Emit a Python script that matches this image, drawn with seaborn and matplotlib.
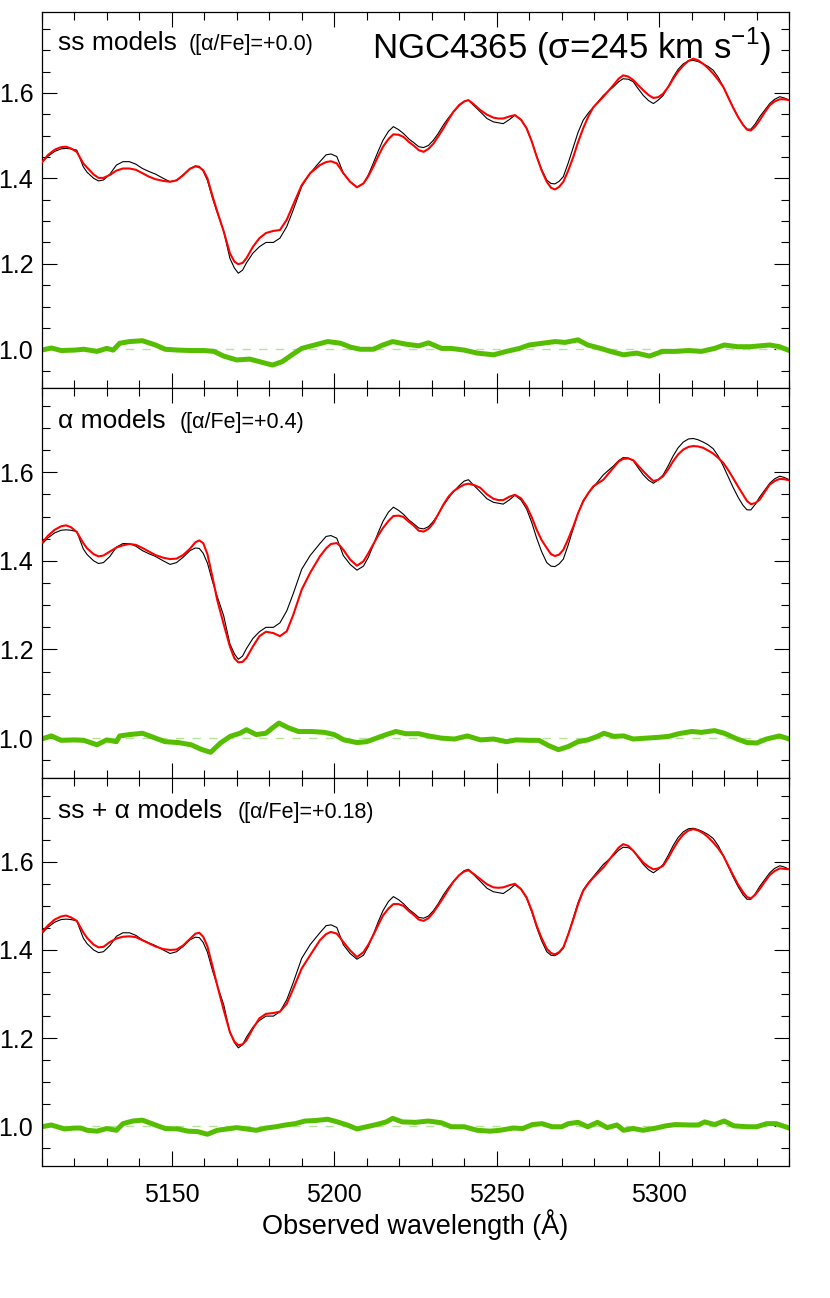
"""
NGC4365 光谱拟合图 - 观测谱 + 模型 + 残差（三种模型）
"""

import numpy as np
import matplotlib
matplotlib.use('Agg')
import matplotlib.pyplot as plt
from matplotlib.ticker import MultipleLocator, FormatStrFormatter
import seaborn as sns

sns.set_theme(style='ticks')
plt.rcParams['font.family'] = ['Liberation Sans', 'DejaVu Sans']
plt.rcParams['mathtext.fontset'] = 'custom'
plt.rcParams['mathtext.rm'] = 'Liberation Sans'
plt.rcParams['text.color'] = 'black'
plt.rcParams['axes.labelcolor'] = 'black'
plt.rcParams['xtick.color'] = 'black'
plt.rcParams['ytick.color'] = 'black'
plt.rcParams['lines.solid_joinstyle'] = 'round'
plt.rcParams['lines.solid_capstyle'] = 'round'

# 观测谱与模型的波长网格 (Å)
wave = [5110.0, 5112.0, 5114.0, 5116.0, 5117.5, 5119.0, 5120.8, 5122.8, 5124.0, 5126.0,
        5127.5, 5129.0, 5131.0, 5133.0, 5135.0, 5137.0, 5139.0, 5141.0, 5143.0, 5145.0,
        5147.4, 5149.5, 5151.5, 5153.5, 5155.6, 5157.3, 5158.5, 5159.7, 5161.0, 5162.5,
        5164.0, 5166.0, 5167.9, 5169.3, 5170.5, 5171.8, 5173.0, 5175.0, 5177.0, 5179.0,
        5181.3, 5183.3, 5185.4, 5187.4, 5190.0, 5192.6, 5195.6, 5197.5, 5199.0, 5200.8,
        5201.8, 5202.8, 5204.9, 5207.0, 5209.0, 5210.5, 5212.0, 5213.5, 5215.0, 5216.7,
        5218.2, 5219.8, 5221.3, 5223.0, 5224.4, 5226.0, 5227.5, 5229.0, 5230.5, 5232.0,
        5233.6, 5235.2, 5236.7, 5238.5, 5240.0, 5241.3, 5243.0, 5244.9, 5247.0, 5249.0,
        5250.5, 5252.0, 5254.0, 5255.6, 5257.5, 5259.2, 5260.8, 5262.3, 5263.8, 5265.4,
        5266.7, 5267.9, 5269.2, 5270.5, 5272.0, 5273.6, 5275.0, 5276.6, 5278.2, 5279.7,
        5282.8, 5285.9, 5287.5, 5288.9, 5290.5, 5292.0, 5293.5, 5295.1, 5296.7, 5298.2,
        5299.7, 5301.2, 5302.8, 5304.3, 5305.8, 5307.4, 5309.0, 5310.5, 5312.0, 5313.5,
        5315.0, 5316.6, 5318.2, 5319.7, 5321.2, 5322.7, 5324.3, 5325.8, 5327.0, 5328.2,
        5329.5, 5330.9, 5332.5, 5334.0, 5335.5, 5337.1, 5338.5, 5340.0]

# 观测谱（三个面板相同）
obs_flux = [1.437, 1.452, 1.463, 1.469, 1.470, 1.469, 1.466, 1.427, 1.414, 1.400,
            1.394, 1.396, 1.410, 1.431, 1.439, 1.439, 1.433, 1.423, 1.416, 1.410,
            1.400, 1.392, 1.396, 1.408, 1.423, 1.429, 1.428, 1.417, 1.395, 1.355,
            1.320, 1.276, 1.213, 1.190, 1.178, 1.185, 1.202, 1.225, 1.240, 1.250,
            1.250, 1.260, 1.287, 1.326, 1.381, 1.412, 1.439, 1.455, 1.457, 1.451,
            1.432, 1.412, 1.392, 1.379, 1.388, 1.408, 1.435, 1.463, 1.489, 1.510,
            1.521, 1.514, 1.505, 1.492, 1.484, 1.474, 1.472, 1.477, 1.489, 1.505,
            1.525, 1.542, 1.556, 1.570, 1.580, 1.583, 1.570, 1.556, 1.540, 1.532,
            1.530, 1.528, 1.538, 1.548, 1.537, 1.517, 1.486, 1.451, 1.421, 1.396,
            1.388, 1.387, 1.393, 1.404, 1.436, 1.474, 1.507, 1.536, 1.553, 1.566,
            1.594, 1.614, 1.626, 1.633, 1.632, 1.626, 1.610, 1.594, 1.582, 1.575,
            1.583, 1.594, 1.615, 1.637, 1.655, 1.668, 1.675, 1.676, 1.673, 1.668,
            1.662, 1.653, 1.636, 1.614, 1.590, 1.566, 1.543, 1.525, 1.515, 1.515,
            1.527, 1.544, 1.560, 1.575, 1.585, 1.591, 1.588, 1.583]

# ss 模型 ([α/Fe]=+0.0)
model_ss = [1.437, 1.455, 1.467, 1.473, 1.474, 1.470, 1.462, 1.435, 1.425, 1.409,
            1.401, 1.401, 1.408, 1.418, 1.423, 1.423, 1.420, 1.412, 1.404, 1.398,
            1.394, 1.392, 1.395, 1.407, 1.422, 1.428, 1.426, 1.419, 1.400, 1.360,
            1.323, 1.276, 1.225, 1.205, 1.199, 1.202, 1.213, 1.240, 1.260, 1.272,
            1.277, 1.279, 1.303, 1.338, 1.384, 1.412, 1.431, 1.438, 1.440, 1.435,
            1.424, 1.412, 1.392, 1.379, 1.388, 1.405, 1.427, 1.451, 1.474, 1.492,
            1.503, 1.502, 1.497, 1.485, 1.477, 1.466, 1.462, 1.469, 1.481, 1.498,
            1.517, 1.538, 1.556, 1.572, 1.580, 1.583, 1.573, 1.560, 1.549, 1.542,
            1.540, 1.540, 1.545, 1.548, 1.537, 1.517, 1.486, 1.451, 1.419, 1.392,
            1.378, 1.374, 1.380, 1.392, 1.418, 1.451, 1.484, 1.517, 1.545, 1.566,
            1.591, 1.618, 1.633, 1.641, 1.638, 1.630, 1.618, 1.606, 1.595, 1.588,
            1.590, 1.598, 1.614, 1.633, 1.650, 1.664, 1.675, 1.680, 1.676, 1.668,
            1.658, 1.645, 1.630, 1.614, 1.590, 1.566, 1.543, 1.525, 1.514, 1.512,
            1.521, 1.536, 1.555, 1.571, 1.580, 1.585, 1.585, 1.583]

# α 模型 ([α/Fe]=+0.4)
model_alpha = [1.440, 1.457, 1.470, 1.478, 1.480, 1.476, 1.465, 1.440, 1.428, 1.415,
               1.410, 1.412, 1.421, 1.430, 1.435, 1.438, 1.436, 1.429, 1.421, 1.413,
               1.407, 1.404, 1.405, 1.413, 1.427, 1.442, 1.446, 1.440, 1.415, 1.365,
               1.312, 1.257, 1.207, 1.180, 1.171, 1.172, 1.181, 1.207, 1.230, 1.240,
               1.237, 1.230, 1.241, 1.278, 1.335, 1.373, 1.410, 1.428, 1.438, 1.440,
               1.434, 1.425, 1.403, 1.389, 1.399, 1.417, 1.437, 1.457, 1.474, 1.490,
               1.501, 1.502, 1.499, 1.488, 1.480, 1.468, 1.466, 1.472, 1.485, 1.505,
               1.527, 1.545, 1.557, 1.566, 1.572, 1.574, 1.571, 1.565, 1.550, 1.540,
               1.537, 1.537, 1.545, 1.549, 1.541, 1.523, 1.498, 1.470, 1.447, 1.429,
               1.415, 1.411, 1.414, 1.425, 1.449, 1.478, 1.507, 1.534, 1.553, 1.568,
               1.583, 1.610, 1.624, 1.630, 1.631, 1.627, 1.615, 1.602, 1.590, 1.580,
               1.583, 1.591, 1.607, 1.625, 1.640, 1.651, 1.657, 1.659, 1.658, 1.655,
               1.649, 1.642, 1.632, 1.621, 1.605, 1.587, 1.567, 1.549, 1.535, 1.528,
               1.530, 1.538, 1.556, 1.572, 1.580, 1.585, 1.584, 1.582]

# ss + α 模型 ([α/Fe]=+0.18)
model_mix = [1.440, 1.456, 1.469, 1.476, 1.478, 1.474, 1.466, 1.440, 1.427, 1.412,
             1.406, 1.407, 1.418, 1.426, 1.430, 1.431, 1.429, 1.422, 1.415, 1.408,
             1.402, 1.400, 1.401, 1.410, 1.425, 1.437, 1.439, 1.430, 1.408, 1.365,
             1.320, 1.264, 1.214, 1.192, 1.184, 1.186, 1.195, 1.222, 1.245, 1.255,
             1.257, 1.260, 1.278, 1.312, 1.358, 1.388, 1.422, 1.436, 1.441, 1.437,
             1.428, 1.418, 1.399, 1.384, 1.395, 1.412, 1.433, 1.456, 1.478, 1.494,
             1.504, 1.504, 1.500, 1.488, 1.480, 1.469, 1.466, 1.472, 1.485, 1.501,
             1.519, 1.538, 1.555, 1.570, 1.578, 1.581, 1.572, 1.561, 1.549, 1.542,
             1.541, 1.542, 1.547, 1.550, 1.538, 1.519, 1.489, 1.455, 1.427, 1.403,
             1.393, 1.390, 1.395, 1.406, 1.435, 1.470, 1.503, 1.534, 1.551, 1.564,
             1.587, 1.617, 1.632, 1.640, 1.636, 1.625, 1.612, 1.598, 1.589, 1.583,
             1.585, 1.591, 1.609, 1.629, 1.647, 1.662, 1.671, 1.674, 1.671, 1.665,
             1.656, 1.644, 1.630, 1.614, 1.592, 1.570, 1.548, 1.531, 1.520, 1.517,
             1.525, 1.538, 1.555, 1.570, 1.579, 1.585, 1.584, 1.583]

# 残差（绿色）
res_wave_ss = [5110, 5113, 5116, 5120, 5123, 5127, 5130, 5132, 5134, 5137, 5141, 5145,
               5148, 5152, 5156, 5160, 5163, 5166, 5170, 5174, 5178, 5181, 5184, 5187,
               5190, 5194, 5198, 5202, 5205, 5208, 5212, 5215, 5218, 5222, 5226, 5229,
               5233, 5236, 5240, 5244, 5249, 5253, 5257, 5260, 5264, 5268, 5271, 5275,
               5278, 5282, 5285, 5289, 5293, 5297, 5301, 5305, 5309, 5313, 5317, 5320,
               5324, 5328, 5331, 5334, 5337, 5340]
res_ss = [0.998, 1.003, 0.997, 0.998, 1.000, 0.995, 1.002, 0.998, 1.014, 1.018, 1.020, 1.010,
          1.000, 0.998, 0.997, 0.997, 0.995, 0.984, 0.975, 0.977, 0.969, 0.963, 0.971, 0.987,
          1.002, 1.010, 1.018, 1.014, 1.005, 1.000, 1.000, 1.010, 1.018, 1.012, 1.008, 1.015,
          1.002, 1.002, 0.998, 0.991, 0.987, 0.995, 1.002, 1.010, 1.014, 1.018, 1.016, 1.022,
          1.010, 1.002, 0.995, 0.987, 0.991, 0.984, 0.995, 0.995, 0.997, 0.995, 1.002, 1.010,
          1.006, 1.006, 1.008, 1.010, 1.006, 0.997]

res_wave_alpha = [5110, 5113, 5116, 5120, 5123, 5127, 5130, 5133, 5134, 5137, 5141, 5145,
                  5148, 5152, 5156, 5159, 5162, 5165, 5168, 5171, 5173, 5176, 5179, 5181,
                  5183, 5186, 5189, 5193, 5197, 5200, 5203, 5207, 5210, 5213, 5216, 5219,
                  5222, 5226, 5229, 5233, 5237, 5241, 5245, 5249, 5253, 5256, 5260, 5263,
                  5266, 5269, 5272, 5275, 5278, 5281, 5283, 5286, 5289, 5292, 5296, 5300,
                  5303, 5306, 5310, 5313, 5317, 5320, 5324, 5327, 5330, 5333, 5337, 5340]
res_alpha = [0.998, 1.005, 0.995, 0.996, 0.995, 0.985, 0.996, 0.992, 1.005, 1.008, 1.011, 1.000,
             0.992, 0.990, 0.985, 0.975, 0.968, 0.989, 1.004, 1.011, 1.019, 1.008, 1.011, 1.023,
             1.034, 1.023, 1.015, 1.015, 1.013, 1.008, 0.996, 0.990, 0.992, 1.000, 1.008, 1.015,
             1.010, 1.010, 1.005, 1.000, 0.998, 1.005, 0.996, 0.998, 0.992, 0.996, 0.995, 0.995,
             0.983, 0.974, 0.981, 0.992, 0.996, 1.004, 1.011, 1.004, 1.005, 0.998, 1.000, 1.002,
             1.004, 1.010, 1.015, 1.013, 1.017, 1.011, 0.998, 0.990, 0.989, 0.998, 1.005, 0.998]

res_wave_mix = [5110, 5113, 5117, 5120, 5122, 5124, 5127, 5130, 5133, 5135, 5138, 5141,
                5145, 5148, 5152, 5155, 5158, 5161, 5164, 5167, 5170, 5173, 5176, 5179,
                5182, 5185, 5188, 5191, 5194, 5198, 5201, 5204, 5207, 5210, 5213, 5216,
                5218, 5221, 5225, 5229, 5233, 5236, 5240, 5244, 5248, 5251, 5255, 5258,
                5261, 5264, 5267, 5270, 5272, 5275, 5278, 5281, 5284, 5287, 5289, 5292,
                5295, 5299, 5302, 5305, 5309, 5312, 5314, 5317, 5320, 5323, 5327, 5330,
                5333, 5336, 5340]
res_mix = [0.999, 1.003, 0.994, 0.996, 0.996, 0.991, 0.989, 0.995, 0.991, 1.006, 1.012, 1.014,
           1.003, 0.995, 0.994, 0.989, 0.988, 0.982, 0.991, 0.994, 0.997, 0.994, 0.991, 0.996,
           0.999, 1.003, 1.006, 1.012, 1.013, 1.016, 1.010, 1.003, 0.994, 0.999, 1.004, 1.010,
           1.018, 1.010, 1.009, 1.012, 1.008, 0.999, 0.999, 0.991, 0.989, 0.991, 0.996, 0.995,
           1.004, 1.006, 0.999, 0.999, 1.006, 1.009, 0.999, 1.009, 0.997, 1.003, 0.991, 0.995,
           0.991, 0.996, 1.001, 1.004, 1.003, 1.003, 1.010, 1.004, 1.012, 1.001, 0.999, 0.999,
           1.006, 1.006, 0.996]

panel_labels = ['ss models', 'α models', 'ss + α models']
panel_sublabels = ['([α/Fe]=+0.0)', '([α/Fe]=+0.4)', '([α/Fe]=+0.18)']
sublabel_x = [0.196, 0.184, 0.262]
title_text = 'NGC4365 (σ=245 km s$^{-1}$)'

models = [model_ss, model_alpha, model_mix]
res_waves = [res_wave_ss, res_wave_alpha, res_wave_mix]
res_vals = [res_ss, res_alpha, res_mix]

GREEN = '#55BE00'

fig = plt.figure(figsize=(8.30, 12.98), dpi=100)
# 面板位置 [left, bottom, width, height]
positions = [
    [0.0502, 0.7013, 0.9007, 0.2897],
    [0.0502, 0.4006, 0.9007, 0.3005],
    [0.0502, 0.1017, 0.9007, 0.2989],
]

for i, pos in enumerate(positions):
    ax = fig.add_axes(pos)
    ax.axhline(1.0, color='#B5E39A', lw=1.0, ls=(0, (6, 6)), zorder=1)
    sns.lineplot(x=res_waves[i], y=res_vals[i], ax=ax, color=GREEN, linewidth=3.6,
                 estimator=None, sort=False, zorder=2)
    sns.lineplot(x=wave, y=obs_flux, ax=ax, color='black', linewidth=0.8,
                 estimator=None, sort=False, zorder=3)
    sns.lineplot(x=wave, y=models[i], ax=ax, color='#FF0000', linewidth=1.5,
                 estimator=None, sort=False, zorder=4)

    ax.set_xlim(5110, 5340)
    ax.set_ylim(0.91, 1.79)
    ax.xaxis.set_major_locator(MultipleLocator(50))
    ax.xaxis.set_minor_locator(MultipleLocator(10))
    ax.yaxis.set_major_locator(MultipleLocator(0.2))
    ax.yaxis.set_minor_locator(MultipleLocator(0.05))
    ax.yaxis.set_major_formatter(FormatStrFormatter('%.1f'))
    ax.tick_params(which='both', direction='in', top=True, right=True,
                   colors='black', width=0.8)
    ax.tick_params(which='major', length=10.8)
    ax.tick_params(which='minor', length=5.5)
    ax.tick_params(axis='y', labelsize=18, pad=6)
    ax.tick_params(axis='x', labelsize=18, pad=12)
    for sp in ax.spines.values():
        sp.set_linewidth(0.9)
        sp.set_color('black')
    ax.set_ylabel('')
    if i < 2:
        ax.set_xticklabels([])
        ax.set_xlabel('')
    else:
        ax.set_xlabel('Observed wavelength (Å)', fontsize=19.5, labelpad=2)

    ax.text(0.022, 0.897, panel_labels[i], transform=ax.transAxes,
            fontsize=19, va='baseline', ha='left')
    ax.text(sublabel_x[i], 0.897, panel_sublabels[i], transform=ax.transAxes,
            fontsize=15.5, va='baseline', ha='left')
    if i == 0:
        ax.text(0.976, 0.875, title_text, transform=ax.transAxes,
                fontsize=25, va='baseline', ha='right')

plt.savefig('out.png', dpi=100)
